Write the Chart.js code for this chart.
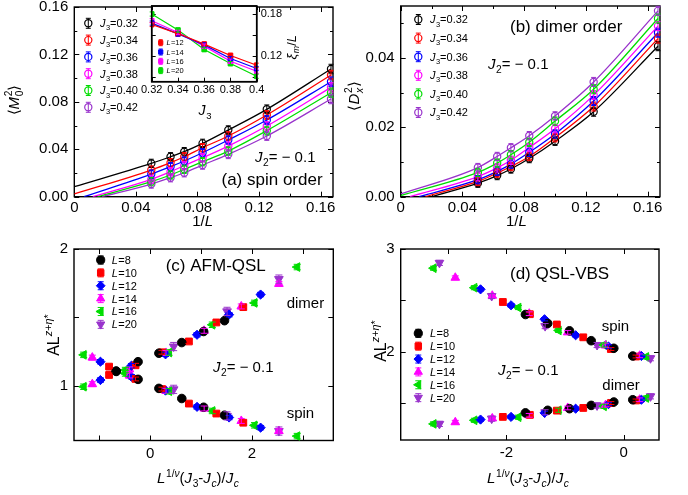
<!DOCTYPE html>
<html>
<head>
<meta charset="utf-8">
<script src="https://cdn.jsdelivr.net/npm/chart.js@4.4.0/dist/chart.umd.min.js"></script>
<style>
  html, body { margin: 0; padding: 0; background: #fff; }
  #wrap { position: relative; width: 688px; height: 495px; overflow: hidden; background: #fff; }
  #wrap canvas { position: absolute; left: 0; top: 0; width: 688px; height: 495px; pointer-events: none; }
</style>
</head>
<body>
<div id="wrap">
  <canvas id="panelA" width="688" height="495"></canvas>
  <canvas id="panelB" width="688" height="495"></canvas>
  <canvas id="panelC" width="688" height="495"></canvas>
  <canvas id="panelD" width="688" height="495"></canvas>
  <canvas id="panelInset" width="688" height="495"></canvas>
</div>
<script>
// ---------- data: (a) spin order <M0^2> vs 1/L ----------
const invL = [0.05, 0.0625, 0.0714, 0.0833, 0.1, 0.125, 0.1667];
const j3Labels = ['0.32', '0.34', '0.36', '0.38', '0.40', '0.42'];
const m2J032 = [0.0281, 0.0337, 0.0380, 0.0450, 0.0562, 0.0737, 0.1077];
const m2J034 = [0.0225, 0.0287, 0.0337, 0.0413, 0.0512, 0.0689, 0.1026];
const m2J036 = [0.0191, 0.0253, 0.0301, 0.0371, 0.0478, 0.0647, 0.0970];
const m2J038 = [0.0146, 0.0211, 0.0262, 0.0329, 0.0427, 0.0596, 0.0922];
const m2J040 = [0.0127, 0.0183, 0.0231, 0.0295, 0.0385, 0.0557, 0.0877];
const m2J042 = [0.0107, 0.0160, 0.0202, 0.0267, 0.0357, 0.0512, 0.0824];
const m2Err = [0.0035, 0.0035, 0.0035, 0.0035, 0.0036, 0.0037, 0.0040];
// where each fitted curve enters the plot
const m2FitX0 = [0, 0, 0.0063, 0.012, 0.015, 0.018];
const m2FitY0 = [0.0084, 0.0023, 0, 0, 0, 0];

// ---------- data: (b) dimer order <Dx^2> vs 1/L ----------
const d2J032 = [0.0039, 0.0061, 0.0080, 0.0110, 0.0160, 0.0245, 0.0434];
const d2J034 = [0.0044, 0.0068, 0.0087, 0.0116, 0.0170, 0.0260, 0.0456];
const d2J036 = [0.0049, 0.0073, 0.0094, 0.0128, 0.0181, 0.0276, 0.0473];
const d2J038 = [0.0058, 0.0083, 0.0105, 0.0142, 0.0196, 0.0293, 0.0492];
const d2J040 = [0.0070, 0.0097, 0.0121, 0.0157, 0.0218, 0.0310, 0.0514];
const d2J042 = [0.0084, 0.0116, 0.0141, 0.0176, 0.0233, 0.0331, 0.0536];
const d2Err = [0.0012, 0.0012, 0.0012, 0.0012, 0.0012, 0.0013, 0.0013];
const d2FitX0 = [0.020, 0.016, 0.012, 0.006, 0, 0];
const d2FitY0 = [0, 0, 0, 0, 0.0003, 0.0008];

// ---------- data: inset, xi_m / L vs J3 ----------
const xiJ3 = [0.32, 0.34, 0.36, 0.38, 0.40];
const xiSizes = ['12', '14', '16', '20'];
const xiL12 = [0.1650, 0.1520, 0.1368, 0.1206, 0.1066];
const xiL14 = [0.1670, 0.1515, 0.1358, 0.1162, 0.1019];
const xiL16 = [0.1704, 0.1535, 0.1340, 0.1124, 0.0980];
const xiL20 = [0.1800, 0.1570, 0.1292, 0.1090, 0.0908];
const xiErr = [0.003, 0.003, 0.003, 0.003, 0.003];

// ---------- data: (c) AFM-QSL collapse ----------
const sizesL = ['8', '10', '12', '14', '16', '20'];
const afm8x = [-0.67, -0.24, 0.17, 0.62, 1.05, 1.46];
const afm8spin = [1.105, 1.047, 0.981, 0.907, 0.843, 0.785];
const afm8dimer = [1.108, 1.176, 1.238, 1.316, 1.397, 1.476];
const afm10x = [-0.81, -0.29, 0.23, 0.76, 1.30, 1.83];
const afm10spin = [1.140, 1.050, 0.976, 0.870, 0.797, 0.730];
const afm10dimer = [1.079, 1.150, 1.245, 1.324, 1.463, 1.575];
const afm12x = [-0.98, -0.37, 0.30, 0.92, 1.55, 2.17];
const afm12spin = [1.176, 1.066, 0.965, 0.846, 0.768, 0.694];
const afm12dimer = [1.042, 1.147, 1.230, 1.373, 1.520, 1.667];
const afm14x = [-1.14, -0.41, 0.31, 1.06, 1.79, 2.53];
const afm14spin = [1.206, 1.075, 0.963, 0.834, 0.743, 0.669];
const afm14dimer = [1.012, 1.120, 1.240, 1.402, 1.580, 1.745];
const afm16x = [-1.31, -0.49, 0.37, 1.22, 2.05, 2.89];
const afm16spin = [1.226, 1.090, 0.960, 0.816, 0.711, 0.632];
const afm16dimer = [0.993, 1.115, 1.243, 1.446, 1.606, 1.868];
const afm20x = [0.46, 1.51, 2.53];
const afm20spin = [0.974, 0.780, 0.669];
const afm20dimer = [1.287, 1.544, 1.780];
const afmErr = [0.012, 0.014, 0.016, 0.018, 0.020, 0.030];

// ---------- data: (d) QSL-VBS collapse ----------
const vbs8x = [-1.675, -1.295, -0.925, -0.555, -0.17, 0.153];
const vbs8spin = [2.362, 2.275, 2.203, 2.107, 2.033, 1.958];
const vbs8dimer = [1.404, 1.429, 1.445, 1.477, 1.510, 1.532];
const vbs10x = [-2.06, -1.60, -1.14, -0.69, -0.22, 0.21];
const vbs10spin = [2.484, 2.365, 2.265, 2.140, 2.026, 1.953];
const vbs10dimer = [1.365, 1.385, 1.426, 1.452, 1.500, 1.525];
const vbs12x = [-2.44, -1.92, -1.35, -0.82, -0.26, 0.30];
const vbs12spin = [2.607, 2.452, 2.316, 2.160, 2.050, 1.958];
const vbs12dimer = [1.339, 1.365, 1.404, 1.445, 1.490, 1.532];
const vbs14x = [-2.87, -2.24, -1.61, -0.955, -0.31, 0.27];
const vbs14spin = [2.720, 2.545, 2.370, 2.188, 2.060, 1.960];
const vbs14dimer = [1.313, 1.350, 1.380, 1.452, 1.480, 1.532];
const vbs16x = [-3.24, -2.545, -1.795, -1.11, -0.34, 0.38];
const vbs16spin = [2.813, 2.623, 2.430, 2.207, 2.065, 1.949];
const vbs16dimer = [1.297, 1.332, 1.362, 1.430, 1.468, 1.549];
const vbs20x = [-3.14, -2.25, -1.34, -0.455, 0.455];
const vbs20spin = [2.865, 2.542, 2.249, 2.065, 1.936];
const vbs20dimer = [1.297, 1.348, 1.410, 1.477, 1.565];
const vbsErr = [0.012, 0.014, 0.016, 0.018, 0.020, 0.025];

// ---------- tick values ----------
const ticksInvL = [0, 0.04, 0.08, 0.12, 0.16];
const minorInvL = [0.02, 0.06, 0.10, 0.14];
const ticksM2 = [0, 0.04, 0.08, 0.12, 0.16];
const minorM2 = [0.02, 0.06, 0.10, 0.14];
const ticksD2 = [0, 0.02, 0.04];
const minorD2 = [0.01, 0.03, 0.05];
const ticksXi = [0.12, 0.18];
const marksXi = [0.09, 0.12, 0.15, 0.18];
const ticksXiJ3 = [0.32, 0.34, 0.36, 0.38, 0.40];
const ticksAfmX = [0, 2];
const marksAfmX = [-1, 0, 1, 2, 3];
const ticksAfmY = [1, 2];
const marksAfmY = [1, 1.5, 2];
const ticksVbsX = [-2, 0];
const marksVbsX = [-3, -2, -1, 0];
const ticksVbsY = [2, 3];
const marksVbsY = [1.5, 2, 2.5, 3];

// ---------- look ----------
const FONT = '"Liberation Sans", Arial, Helvetica, sans-serif';
Chart.defaults.font.family = FONT;
Chart.defaults.color = '#000';
const W = 688, H = 495;
const colJ = ['#000000', '#ff0000', '#0000ff', '#ff00ff', '#00dd00', '#9933cc'];
const colXi = ['#ff0000', '#0000ff', '#ff00ff', '#00dd00'];
const markL = [
  { ps: 'circle', r: 4.3, rot: 0 },
  { ps: 'rect', r: 4.8, rot: 0 },
  { ps: 'rectRot', r: 4.6, rot: 0 },
  { ps: 'triangle', r: 5, rot: 0 },
  { ps: 'triangle', r: 5, rot: -90 },
  { ps: 'triangle', r: 5, rot: 180 }
];

// ---------- rich text (italic, sub/superscripts, rotation) ----------
function fontOf(size, italic) { return (italic ? 'italic ' : '') + size.toFixed(1) + 'px ' + FONT; }
function layoutRich(ctx, segs, size) {
  const items = []; let x = 0;
  for (const s of segs) {
    if (!Array.isArray(s)) {
      const fs = size * 0.68;
      ctx.font = fontOf(fs, !!s.subItalic); const w1 = ctx.measureText(s.sub).width;
      ctx.font = fontOf(fs, false); const w2 = ctx.measureText(s.sup).width;
      items.push({ t: s.sub, f: fontOf(fs, !!s.subItalic), x, dy: size * 0.28 });
      items.push({ t: s.sup, f: fontOf(fs, false), x, dy: -size * 0.42 });
      x += Math.max(w1, w2);
    } else {
      const t = s[0], fl = s[1] || '';
      const small = fl.includes('b') || fl.includes('p');
      const fs = small ? size * 0.68 : size;
      const f = fontOf(fs, fl.includes('i'));
      ctx.font = f;
      const w = ctx.measureText(t).width;
      const dy = fl.includes('b') ? size * 0.28 : (fl.includes('p') ? -size * 0.42 : 0);
      items.push({ t, f, x, dy });
      x += w + (fl.includes('i') && !small ? size * 0.04 : 0);
    }
  }
  return { items, width: x };
}
function drawRich(ctx, spec) {
  const { segs, x, y, size } = spec;
  const align = spec.align || 'left';
  ctx.save();
  ctx.translate(x, y);
  if (spec.rot) ctx.rotate(spec.rot);
  const lay = layoutRich(ctx, segs, size);
  const off = align === 'center' ? -lay.width / 2 : (align === 'right' ? -lay.width : 0);
  ctx.fillStyle = '#000';
  ctx.textAlign = 'left';
  ctx.textBaseline = 'alphabetic';
  for (const it of lay.items) { ctx.font = it.f; ctx.fillText(it.t, off + it.x, it.dy); }
  ctx.restore();
}

function drawMarker(ctx, st, x, y) {
  ctx.save();
  ctx.strokeStyle = st.color;
  ctx.fillStyle = st.open ? 'rgba(0,0,0,0)' : st.color;
  ctx.lineWidth = st.bw || 1;
  Chart.helpers.drawPoint(ctx, { pointStyle: st.ps, rotation: st.rot || 0, radius: st.r, borderWidth: st.bw || 1 }, x, y);
  ctx.restore();
}
function drawBar(ctx, color, x, y1, y2, cap) {
  ctx.save();
  ctx.strokeStyle = color; ctx.lineWidth = 1;
  ctx.beginPath();
  ctx.moveTo(x, y1); ctx.lineTo(x, y2);
  ctx.moveTo(x - cap, y1); ctx.lineTo(x + cap, y1);
  ctx.moveTo(x - cap, y2); ctx.lineTo(x + cap, y2);
  ctx.stroke();
  ctx.restore();
}

// ---------- per-panel decorations: frame, inward ticks, error bars, key, labels ----------
function decorations(cfg) {
  return {
    id: 'decorations',
    beforeDraw(chart) {
      if (!cfg.white) return;
      const a = chart.chartArea, ctx = chart.ctx;
      ctx.save(); ctx.fillStyle = '#fff';
      ctx.fillRect(a.left, a.top, a.right - a.left, a.bottom - a.top);
      ctx.restore();
    },
    beforeDatasetsDraw(chart) {
      const { ctx, chartArea: a } = chart;
      const xs = chart.scales.x, ys = chart.scales.y;
      ctx.save();
      ctx.strokeStyle = '#000';
      ctx.lineWidth = 1;
      ctx.beginPath();
      const tx = (vals, len) => vals.forEach(v => {
        const p = Math.round(xs.getPixelForValue(v)) + 0.5;
        ctx.moveTo(p, a.bottom); ctx.lineTo(p, a.bottom - len);
        ctx.moveTo(p, a.top); ctx.lineTo(p, a.top + len);
      });
      const ty = (vals, len) => vals.forEach(v => {
        const p = Math.round(ys.getPixelForValue(v)) + 0.5;
        ctx.moveTo(a.left, p); ctx.lineTo(a.left + len, p);
        ctx.moveTo(a.right, p); ctx.lineTo(a.right - len, p);
      });
      tx(cfg.xMajor, cfg.major); tx(cfg.xMinor || [], cfg.minor);
      ty(cfg.yMajor, cfg.major); ty(cfg.yMinor || [], cfg.minor);
      ctx.stroke();
      ctx.lineWidth = cfg.frameWidth || 1.4;
      ctx.strokeRect(a.left, a.top, a.right - a.left, a.bottom - a.top);
      ctx.restore();
    },
    afterDatasetsDraw(chart) {
      const { ctx, chartArea: a } = chart;
      const ys = chart.scales.y;
      ctx.save();
      ctx.beginPath(); ctx.rect(a.left - 4, a.top - 4, a.right - a.left + 8, a.bottom - a.top + 8); ctx.clip();
      chart.data.datasets.forEach((ds, i) => {
        if (!ds.errs) return;
        const meta = chart.getDatasetMeta(i);
        meta.data.forEach((el, j) => {
          const v = ds.data[j].y, e = ds.errs[j];
          drawBar(ctx, ds.borderColor, el.x, ys.getPixelForValue(v + e), ys.getPixelForValue(v - e), cfg.cap);
        });
      });
      ctx.restore();
      if (cfg.frameOnTop) {
        ctx.save(); ctx.strokeStyle = '#000'; ctx.lineWidth = cfg.frameWidth || 1.4;
        ctx.strokeRect(a.left, a.top, a.right - a.left, a.bottom - a.top); ctx.restore();
      }
    },
    afterDraw(chart) {
      const ctx = chart.ctx;
      if (cfg.key) {
        const k = cfg.key;
        k.items.forEach((it, i) => {
          const y = k.y0 + k.dy * i;
          drawBar(ctx, it.style.color, k.x, y - k.bar, y + k.bar, k.cap);
          drawMarker(ctx, it.style, k.x, y);
          drawRich(ctx, { segs: it.segs, x: k.tx, y: y + k.size * 0.36, size: k.size });
        });
      }
      (cfg.texts || []).forEach(t => drawRich(ctx, t));
    }
  };
}

function linearAxis(o) {
  const horizontal = o.pos === 'bottom';
  return {
    type: 'linear', position: o.pos, min: o.min, max: o.max,
    grid: { display: false, drawTicks: false },
    border: { display: false },
    ticks: {
      autoSkip: false, maxRotation: 0, minRotation: 0, padding: o.pad,
      font: { size: o.fs }, color: '#000',
      callback: v => o.fmt(v)
    },
    afterBuildTicks: s => { s.ticks = o.labels.map(v => ({ value: v })); },
    afterFit: s => {
      if (horizontal) s.height = o.size; else s.width = o.size;
      s.paddingLeft = 0; s.paddingRight = 0; s.paddingTop = 0; s.paddingBottom = 0;
    }
  };
}

function makePanel(id, area, xo, yo, datasets, deco) {
  const yRight = yo.pos === 'right';
  const layoutPad = {
    left: yRight ? area.l : 0,
    right: yRight ? W - area.r - yo.size : W - area.r,
    top: area.t,
    bottom: H - area.b - xo.size
  };
  if (!yRight) yo.size = area.l;
  return new Chart(document.getElementById(id), {
    type: 'scatter',
    data: { datasets },
    options: {
      responsive: false, animation: false, devicePixelRatio: 1,
      layout: { padding: layoutPad },
      plugins: { legend: { display: false }, tooltip: { enabled: false } },
      events: [],
      scales: { x: linearAxis(xo), y: linearAxis(yo) }
    },
    plugins: [decorations(deco)]
  });
}

const pts = (xs, ys) => xs.map((x, i) => ({ x, y: ys[i] }));
const fmt2 = v => v.toFixed(2);
const fmtInvL = v => (v === 0 ? '0' : v.toFixed(2));
const fmtInt = v => String(Math.round(v));
const fmtShort = v => String(parseFloat(v.toFixed(2)));

// common text pieces
const J2label = [['J', 'i'], ['2', 'b'], ['= \u2212 0.1', '']];
const invLTitle = [['1/', ''], ['L', 'i']];
const alTitle = [['AL', ''], ['z', 'pi'], ['+', 'p'], ['\u03b7', 'pi'], ['*', 'p']];
const scaledX = [['L', 'i'], ['1/', 'p'], ['\u03bd', 'pi'], ['(', ''], ['J', 'i'], ['3', 'b'], ['-', ''],
  ['J', 'i'], ['c', 'bi'], [')/', ''], ['J', 'i'], ['c', 'bi']];
const ROT = -Math.PI / 2;

// ---------- (a) ----------
(function () {
  const series = [m2J032, m2J034, m2J036, m2J038, m2J040, m2J042];
  const ds = [];
  series.forEach((ys, k) => {
    ds.push({
      data: pts(invL, ys), showLine: false, order: 0,
      pointStyle: 'circle', pointRadius: 3.6, pointBorderWidth: 1.2,
      borderColor: colJ[k], pointBorderColor: colJ[k], backgroundColor: 'rgba(0,0,0,0)',
      errs: m2Err
    });
  });
  series.forEach((ys, k) => {
    ds.push({
      data: [{ x: m2FitX0[k], y: m2FitY0[k] }].concat(pts(invL, ys)),
      showLine: true, order: 1, pointRadius: 0, borderWidth: 1.3,
      borderColor: colJ[k], backgroundColor: colJ[k], cubicInterpolationMode: 'monotone'
    });
  });
  makePanel('panelA', { l: 74.3, t: 7, r: 333, b: 196.7 },
    { pos: 'bottom', min: 0, max: 0.168, labels: ticksInvL, fmt: fmtInvL, pad: 2, fs: 15, size: 20 },
    { pos: 'left', min: 0, max: 0.16, labels: ticksM2, fmt: fmt2, pad: 6, fs: 15 },
    ds,
    {
      xMajor: ticksInvL, xMinor: minorInvL, yMajor: ticksM2, yMinor: minorM2, major: 5, minor: 3, cap: 2.5,
      key: {
        x: 88.3, tx: 100, y0: 23.3, dy: 16.8, size: 11, bar: 5, cap: 2.5,
        items: j3Labels.map((lab, k) => ({
          segs: [['J', 'i'], ['3', 'b'], ['=' + lab, '']],
          style: { color: colJ[k], ps: 'circle', r: 3.6, bw: 1.2, open: true }
        }))
      },
      texts: [
        { segs: J2label, x: 255, y: 162, size: 15 },
        { segs: [['(a) spin order', '']], x: 221.5, y: 184.5, size: 17 },
        { segs: invLTitle, x: 203, y: 226, size: 15, align: 'center' },
        { segs: [['\u27e8', ''], ['M', 'i'], { sub: '0', sup: '2' }, ['\u27e9', '']], x: 18.5, y: 100, size: 15, align: 'center', rot: ROT }
      ]
    });
})();

// ---------- (b) ----------
(function () {
  const series = [d2J032, d2J034, d2J036, d2J038, d2J040, d2J042];
  const ds = [];
  series.forEach((ys, k) => {
    ds.push({
      data: pts(invL, ys), showLine: false, order: 0,
      pointStyle: 'circle', pointRadius: 3.6, pointBorderWidth: 1.2,
      borderColor: colJ[k], pointBorderColor: colJ[k], backgroundColor: 'rgba(0,0,0,0)',
      errs: d2Err
    });
  });
  series.forEach((ys, k) => {
    ds.push({
      data: [{ x: d2FitX0[k], y: d2FitY0[k] }].concat(pts(invL, ys)),
      showLine: true, order: 1, pointRadius: 0, borderWidth: 1.3,
      borderColor: colJ[k], backgroundColor: colJ[k], cubicInterpolationMode: 'monotone'
    });
  });
  makePanel('panelB', { l: 400.7, t: 6, r: 660, b: 196.7 },
    { pos: 'bottom', min: 0, max: 0.168, labels: ticksInvL, fmt: fmtInvL, pad: 2, fs: 15, size: 20 },
    { pos: 'left', min: 0, max: 0.055, labels: ticksD2, fmt: fmt2, pad: 6, fs: 15 },
    ds,
    {
      xMajor: ticksInvL, xMinor: minorInvL, yMajor: ticksD2, yMinor: minorD2, major: 5, minor: 3, cap: 2.5,
      key: {
        x: 418.3, tx: 430, y0: 19.5, dy: 18.6, size: 11, bar: 5, cap: 2.5,
        items: j3Labels.map((lab, k) => ({
          segs: [['J', 'i'], ['3', 'b'], ['=' + lab, '']],
          style: { color: colJ[k], ps: 'circle', r: 3.6, bw: 1.2, open: true }
        }))
      },
      texts: [
        { segs: [['(b) dimer order', '']], x: 510, y: 32, size: 17 },
        { segs: J2label, x: 488, y: 68.5, size: 15 },
        { segs: invLTitle, x: 516.7, y: 226, size: 15, align: 'center' },
        { segs: [['\u27e8', ''], ['D', 'i'], { sub: 'x', sup: '2', subItalic: true }, ['\u27e9', '']], x: 358.5, y: 96, size: 15, align: 'center', rot: ROT }
      ]
    });
})();

// ---------- (c) ----------
(function () {
  const xs = [afm8x, afm10x, afm12x, afm14x, afm16x, afm20x];
  const spin = [afm8spin, afm10spin, afm12spin, afm14spin, afm16spin, afm20spin];
  const dimer = [afm8dimer, afm10dimer, afm12dimer, afm14dimer, afm16dimer, afm20dimer];
  const ds = [];
  [spin, dimer].forEach(branch => {
    xs.forEach((x, k) => {
      const m = markL[k];
      ds.push({
        data: pts(x, branch[k]), showLine: false,
        pointStyle: m.ps, pointRotation: m.rot, pointRadius: m.r, pointBorderWidth: 1,
        borderColor: colJ[k], backgroundColor: colJ[k], pointBackgroundColor: colJ[k],
        errs: x.map(() => afmErr[k])
      });
    });
  });
  makePanel('panelC', { l: 74, t: 249, r: 333.3, b: 440.5 },
    { pos: 'bottom', min: -1.5, max: 3.6, labels: ticksAfmX, fmt: fmtInt, pad: 4, fs: 15, size: 20 },
    { pos: 'left', min: 0.6, max: 2, labels: ticksAfmY, fmt: fmtInt, pad: 6, fs: 15 },
    ds,
    {
      xMajor: marksAfmX, yMajor: marksAfmY, major: 5, minor: 3, cap: 3.5,
      key: {
        x: 100.7, tx: 111.7, y0: 260, dy: 12.87, size: 11, bar: 4, cap: 3,
        items: sizesL.map((lab, k) => ({
          segs: [['L', 'i'], ['=' + lab, '']],
          style: { color: colJ[k], ps: markL[k].ps, rot: markL[k].rot, r: markL[k].r * 0.95, bw: 1 }
        }))
      },
      texts: [
        { segs: [['(c) AFM-QSL', '']], x: 165.7, y: 271, size: 17 },
        { segs: [['dimer', '']], x: 286.7, y: 308, size: 15 },
        { segs: [['spin', '']], x: 286.7, y: 418, size: 15 },
        { segs: J2label, x: 213, y: 372, size: 15 },
        { segs: alTitle, x: 59, y: 335, size: 16, align: 'center', rot: ROT },
        { segs: scaledX, x: 198, y: 483, size: 15, align: 'center' }
      ]
    });
})();

// ---------- (d) ----------
(function () {
  const xs = [vbs8x, vbs10x, vbs12x, vbs14x, vbs16x, vbs20x];
  const spin = [vbs8spin, vbs10spin, vbs12spin, vbs14spin, vbs16spin, vbs20spin];
  const dimer = [vbs8dimer, vbs10dimer, vbs12dimer, vbs14dimer, vbs16dimer, vbs20dimer];
  const ds = [];
  [spin, dimer].forEach(branch => {
    xs.forEach((x, k) => {
      const m = markL[k];
      ds.push({
        data: pts(x, branch[k]), showLine: false,
        pointStyle: m.ps, pointRotation: m.rot, pointRadius: m.r, pointBorderWidth: 1,
        borderColor: colJ[k], backgroundColor: colJ[k], pointBackgroundColor: colJ[k],
        errs: x.map(() => vbsErr[k])
      });
    });
  });
  makePanel('panelD', { l: 400.7, t: 249, r: 659, b: 440 },
    { pos: 'bottom', min: -3.8, max: 0.6, labels: ticksVbsX, fmt: fmtInt, pad: 4, fs: 15, size: 20 },
    { pos: 'left', min: 1.14, max: 3, labels: ticksVbsY, fmt: fmtInt, pad: 6, fs: 15 },
    ds,
    {
      xMajor: marksVbsX, yMajor: marksVbsY, major: 5, minor: 3, cap: 3.5,
      key: {
        x: 418.3, tx: 430, y0: 333.3, dy: 12.87, size: 11, bar: 4, cap: 3,
        items: sizesL.map((lab, k) => ({
          segs: [['L', 'i'], ['=' + lab, '']],
          style: { color: colJ[k], ps: markL[k].ps, rot: markL[k].rot, r: markL[k].r * 0.95, bw: 1 }
        }))
      },
      texts: [
        { segs: [['(d) QSL-VBS', '']], x: 510, y: 279, size: 17 },
        { segs: [['spin', '']], x: 601.7, y: 330.5, size: 15 },
        { segs: [['dimer', '']], x: 602.3, y: 390, size: 15 },
        { segs: J2label, x: 498, y: 375, size: 15 },
        { segs: alTitle, x: 386, y: 341, size: 16, align: 'center', rot: ROT },
        { segs: scaledX, x: 528, y: 483, size: 15, align: 'center' }
      ]
    });
})();

// ---------- inset of (a): xi_m / L ----------
(function () {
  const series = [xiL12, xiL14, xiL16, xiL20];
  const ds = series.map((ys, k) => ({
    data: pts(xiJ3, ys), showLine: true, borderWidth: 1.2,
    pointStyle: 'rect', pointRadius: 3.3, pointBorderWidth: 1,
    borderColor: colXi[k], backgroundColor: colXi[k], pointBackgroundColor: colXi[k],
    errs: xiErr
  }));
  makePanel('panelInset', { l: 151.7, t: 6, r: 256.7, b: 81.7 },
    { pos: 'bottom', min: 0.32, max: 0.40, labels: ticksXiJ3, fmt: fmtShort, pad: 2, fs: 11, size: 14 },
    { pos: 'right', min: 0.083, max: 0.1915, labels: ticksXi, fmt: fmt2, pad: 4, fs: 11, size: 34 },
    ds,
    {
      white: true, frameOnTop: true, frameWidth: 1.5,
      xMajor: ticksXiJ3, yMajor: marksXi, major: 4, minor: 2, cap: 2,
      key: {
        x: 160.7, tx: 166.5, y0: 42.7, dy: 9.3, size: 7.5, bar: 3, cap: 2,
        items: xiSizes.map((lab, k) => ({
          segs: [['L', 'i'], ['=' + lab, '']],
          style: { color: colXi[k], ps: 'rect', r: 3, bw: 1 }
        }))
      },
      texts: [
        { segs: [['J', 'i'], ['3', 'b']], x: 205, y: 115, size: 14, align: 'center' },
        { segs: [['\u03be', 'i'], ['m', 'bi'], ['/', ''], ['L', 'i']], x: 295.5, y: 47, size: 13, align: 'center', rot: ROT }
      ]
    });
})();
</script>
</body>
</html>
